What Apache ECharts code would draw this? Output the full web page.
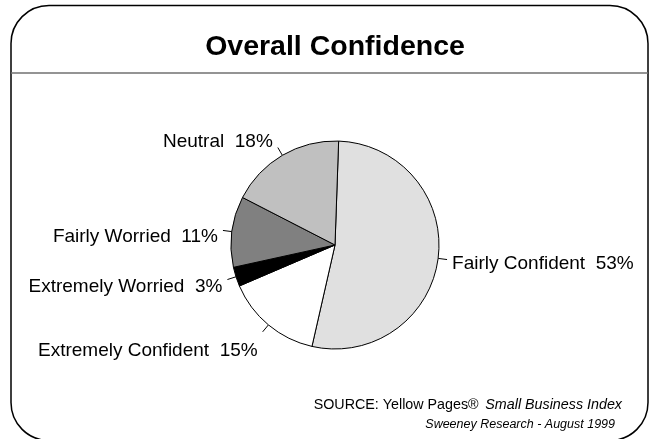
<!DOCTYPE html>
<html>
<head>
<meta charset="utf-8">
<script src="https://cdn.jsdelivr.net/npm/echarts@6/dist/echarts.min.js"></script>
<style>
  html, body { margin: 0; padding: 0; background: #fff; }
  #chart { width: 650px; height: 439px; }
</style>
</head>
<body>
<div id="chart"></div>
<script>
// slices, clockwise from the top
var categories = ['Fairly Confident', 'Extremely Confident', 'Extremely Worried', 'Fairly Worried', 'Neutral'];
var shares = [53, 15, 3, 11, 18];
var fills = ['#e0e0e0', '#ffffff', '#000000', '#808080', '#c0c0c0'];
// how far each label text sits below (+) or above (-) its leader tick, px
var labelShift = [4, 19, 7, 6, -6];

var titleText = 'Overall Confidence';
var sourceLine1 = 'SOURCE: Yellow Pages®';
var sourceItalic = 'Small Business Index';
var sourceLine2 = 'Sweeney Research - August 1999';

var font = '"Liberation Sans", Arial, sans-serif';

var pieData = categories.map(function (name, i) {
    return { name: name, value: shares[i], itemStyle: { color: fills[i] } };
});

// spacer lines in rich text push the text up or down
var rich = { t: { fontFamily: font, fontSize: 19, color: '#000', lineHeight: 22 } };
labelShift.forEach(function (d, i) {
    rich['g' + i] = { fontSize: 1, lineHeight: Math.max(1, Math.abs(d) * 2) };
});

var chart = echarts.init(document.getElementById('chart'));
chart.setOption({
    animation: false,
    graphic: [
        {
            type: 'rect',
            shape: { x: 11, y: 5.5, width: 637, height: 435, r: 38 },
            style: { fill: 'none', stroke: '#000', lineWidth: 1.5 },
            z: 0
        },
        {
            type: 'line',
            shape: { x1: 11, y1: 73, x2: 648, y2: 73 },
            style: { stroke: '#707070', lineWidth: 1.5 }
        },
        {
            type: 'text',
            x: 335,
            y: 47,
            style: {
                text: titleText,
                align: 'center',
                verticalAlign: 'middle',
                fontFamily: font, fontSize: 28.5, fontWeight: 'bold', fill: '#000'
            }
        },
        {
            type: 'text',
            right: 28,
            top: 398,
            style: {
                text: '{n|' + sourceLine1 + '}  {i|' + sourceItalic + '}',
                rich: {
                    n: { fontFamily: font, fontSize: 14.3, color: '#000' },
                    i: { fontFamily: font, fontSize: 14.3, fontStyle: 'italic', color: '#000' }
                }
            }
        },
        {
            type: 'text',
            right: 35,
            top: 418,
            style: {
                text: sourceLine2,
                fontFamily: font, fontSize: 12.5, fontStyle: 'italic', fill: '#000'
            }
        }
    ],
    series: [{
        type: 'pie',
        center: [335, 245],
        radius: 104,
        startAngle: 88,
        clockwise: true,
        avoidLabelOverlap: false,
        data: pieData,
        itemStyle: { borderColor: '#000', borderWidth: 1 },
        label: {
            formatter: function (p) {
                var i = p.dataIndex;
                var txt = '{t|' + p.name + '  ' + p.value + '%}';
                var gap = '{g' + i + '| }';
                return labelShift[i] >= 0 ? gap + '\n' + txt : txt + '\n' + gap;
            },
            rich: rich
        },
        labelLine: {
            show: true,
            length: 9,
            length2: 0,
            lineStyle: { color: '#000', width: 1 }
        },
        emphasis: { disabled: true }
    }]
});
</script>
</body>
</html>
